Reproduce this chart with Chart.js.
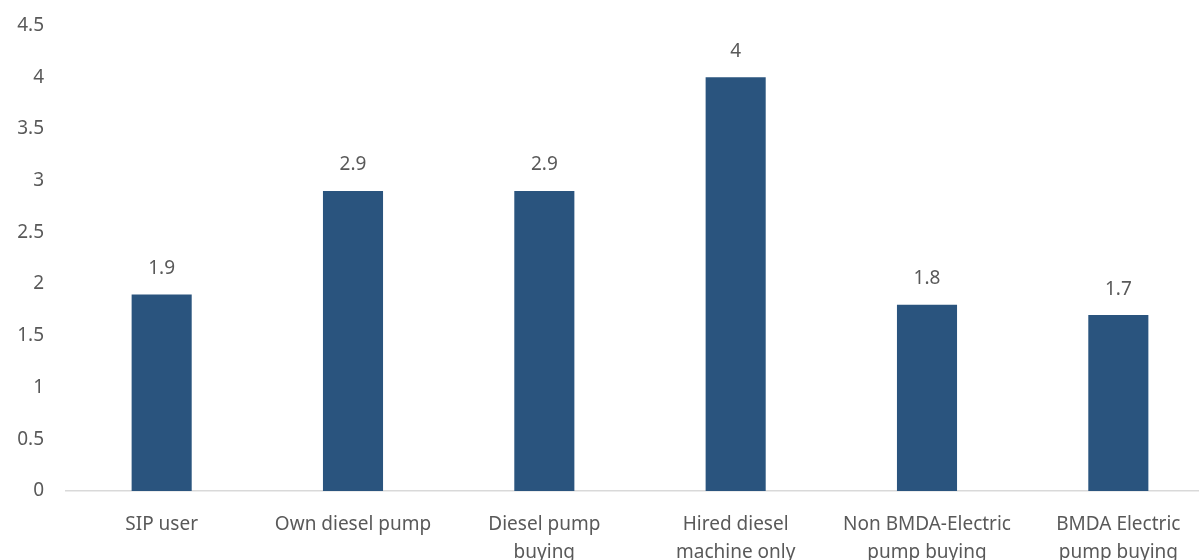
<!DOCTYPE html>
<html>
<head>
<meta charset="utf-8">
<script src="https://cdn.jsdelivr.net/npm/chart.js@4.4.1/dist/chart.umd.min.js"></script>
<style>
    html, body { margin: 0; padding: 0; background: #fff; overflow: hidden; }
    #wrap { width: 1214px; height: 580px; position: relative; }
</style>
</head>
<body>
<div id="wrap"><canvas id="pumpChart"></canvas></div>
<script>
// Chart data
const categories = [
    'SIP user',
    'Own diesel pump',
    ['Diesel pump', 'buying'],
    ['Hired diesel', 'machine only'],
    ['Non BMDA-Electric', 'pump buying'],
    ['BMDA Electric', 'pump buying']
];
const values = [1.9, 2.9, 2.9, 4, 1.8, 1.7];
const yTicks = [0, 0.5, 1, 1.5, 2, 2.5, 3, 3.5, 4, 4.5];

const textColor = '#595959';
const fontFamily = '"Noto Sans", "Open Sans", sans-serif';

// Value labels above bars
const valueLabels = {
    id: 'valueLabels',
    afterDatasetsDraw(chart) {
        const ctx = chart.ctx;
        const meta = chart.getDatasetMeta(0);
        ctx.save();
        ctx.font = '19px ' + fontFamily;
        ctx.fillStyle = textColor;
        ctx.textAlign = 'center';
        ctx.textBaseline = 'middle';
        meta.data.forEach((bar, i) => {
            ctx.fillText(String(values[i]), bar.x, bar.y - 26);
        });
        ctx.restore();
    }
};

new Chart(document.getElementById('pumpChart'), {
    type: 'bar',
    data: {
        labels: categories,
        datasets: [{
            data: values,
            backgroundColor: '#2A547E',
            barPercentage: 0.314,
            categoryPercentage: 1
        }]
    },
    options: {
        responsive: true,
        maintainAspectRatio: false,
        animation: false,
        layout: { padding: { top: 24, right: 0, left: 0, bottom: 0 } },
        plugins: {
            legend: { display: false },
            tooltip: { enabled: false }
        },
        scales: {
            x: {
                grid: { display: false },
                border: { color: '#D9D9D9', width: 1.5 },
                ticks: {
                    color: textColor,
                    font: { family: fontFamily, size: 19, lineHeight: 1.5 },
                    padding: 11,
                    maxRotation: 0,
                    autoSkip: false
                },
                afterFit(scale) { scale.height = 89; }
            },
            y: {
                min: 0,
                max: 4.5,
                afterBuildTicks(scale) {
                    scale.ticks = yTicks.map(v => ({ value: v }));
                },
                grid: { display: false },
                border: { display: false },
                ticks: {
                    color: textColor,
                    font: { family: fontFamily, size: 19 },
                    padding: 14,
                    callback: v => String(v)
                },
                afterFit(scale) { scale.width = 66; }
            }
        }
    },
    plugins: [valueLabels]
});
</script>
</body>
</html>
